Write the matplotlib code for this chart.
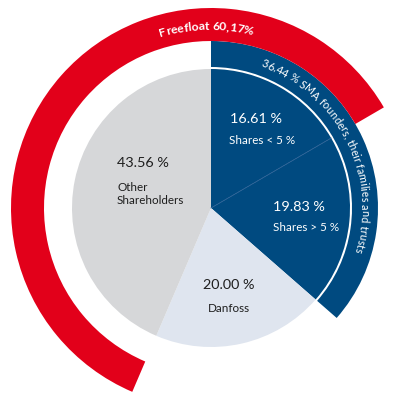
import numpy as np
import matplotlib
matplotlib.use("Agg")
import matplotlib.pyplot as plt
from matplotlib.font_manager import FontProperties

# ---- data ----
categories = ["Shares < 5 %", "Shares > 5 %", "Danfoss", "Other\nShareholders"]
values = [16.61, 19.83, 20.00, 43.56]
value_labels = ["16.61 %", "19.83 %", "20.00 %", "43.56 %"]
founders_total = 36.44
freefloat_total = 60.17
founders_label = "36,44 % SMA founders, their families and trusts"
freefloat_label = "Freefloat 60,17%"

BLUE = "#004a80"
GRAY = "#d6d7d9"
LIGHT = "#dfe5ef"
RED = "#e2001a"
DARK = "#1e1e1e"

plt.rcParams['font.family'] = ['Lato', 'DejaVu Sans']

fig = plt.figure(figsize=(4.2, 4.2), dpi=100)
ax = fig.add_axes([0, 0, 1, 1])

R_PIE = 139
# main pie
ax.pie(values, colors=[BLUE, BLUE, LIGHT, GRAY], startangle=90, counterclock=False,
       radius=R_PIE, center=(0, 0), wedgeprops=dict(linewidth=0, antialiased=True))
# divider between the two founder slices
a = np.deg2rad(90 - 360 * values[0] / 100)
ax.plot([0, R_PIE * np.cos(a)], [0, R_PIE * np.sin(a)], color="#2a6095", lw=0.6)

# blue founders band
ax.pie([founders_total, 100 - founders_total], colors=[BLUE, "none"], startangle=90,
       counterclock=False, radius=167, center=(0, 0),
       wedgeprops=dict(width=26, linewidth=0))

# red freefloat band: starts at end of "Shares < 5 %" slice, goes counter-clockwise
ax.pie([freefloat_total, 100 - freefloat_total], colors=[RED, "none"],
       startangle=90 - 360 * values[0] / 100, counterclock=True, radius=200,
       center=(0, 0), wedgeprops=dict(width=33, linewidth=0))

ax.set_xlim(-211, 209)
ax.set_ylim(-212, 208)
ax.set_aspect('equal')
ax.axis('off')

fig.canvas.draw()
renderer = fig.canvas.get_renderer()


def text_w(s, fp):
    w, h, d = renderer.get_text_width_height_descent(s, fp, ismath=False)
    return w


def curved_text(s, center_deg, radius, arc_len, weight, color):
    fp = FontProperties(family=['Lato', 'DejaVu Sans'], weight=weight, size=10)
    total = text_w(s + "l", fp) - text_w("l", fp)
    size = 10 * arc_len / total
    fp = FontProperties(family=['Lato', 'DejaVu Sans'], weight=weight, size=size)
    sentinel = text_w("l", fp)
    total = text_w(s + "l", fp) - sentinel
    for i, ch in enumerate(s):
        if ch == " ":
            continue
        x0 = text_w(s[:i] + "l", fp) - sentinel
        x1 = text_w(s[:i + 1] + "l", fp) - sentinel
        mid = (x0 + x1) / 2 - total / 2
        th = center_deg + np.rad2deg(mid / radius)
        t = np.deg2rad(th)
        ax.text(radius * np.sin(t), radius * np.cos(t), ch, rotation=-th,
                rotation_mode='anchor', ha='center', va='baseline',
                fontproperties=fp, color=color)


curved_text(freefloat_label, -1.5, 178, 93, 'bold', 'white')
curved_text(founders_label, 63, 150, 228, 'normal', 'white')


# slice labels (pixel positions -> data)
def P(x, y):
    return x - 211, 208 - y


VS, CS = 10.4, 8.4
ax.text(*P(230, 119), value_labels[0], color='white', fontsize=VS, ha='left', va='center')
ax.text(*P(229, 140), categories[0], color='white', fontsize=CS, ha='left', va='center')
ax.text(*P(273, 207), value_labels[1], color='white', fontsize=VS, ha='left', va='center')
ax.text(*P(273, 228), categories[1], color='white', fontsize=CS, ha='left', va='center')
ax.text(*P(229, 285), value_labels[2], color=DARK, fontsize=VS, ha='center', va='center')
ax.text(*P(229, 308), categories[2], color=DARK, fontsize=CS, ha='center', va='center')
ax.text(*P(117, 163), value_labels[3], color=DARK, fontsize=VS, ha='left', va='center')
ax.text(*P(117, 194), categories[3], color=DARK, fontsize=CS, ha='left', va='center',
        linespacing=1.3)

fig.savefig("out.png", dpi=100)
